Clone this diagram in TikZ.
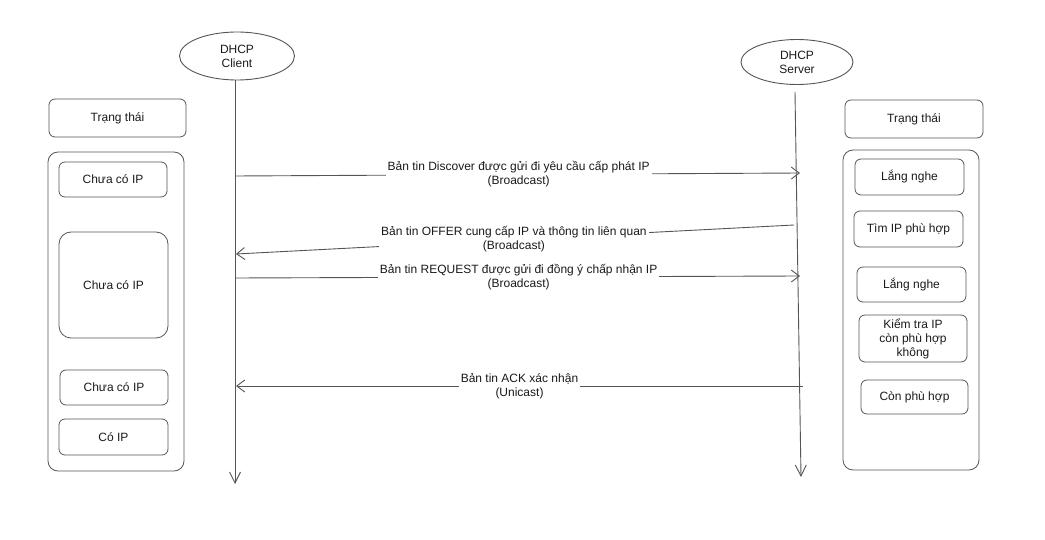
\documentclass[tikz,border=0pt]{standalone}
\usepackage{fontspec}
\setmainfont{Liberation Sans}
\usetikzlibrary{arrows.meta,shapes.geometric}
\definecolor{ln}{HTML}{555555}
\definecolor{tx}{HTML}{1A1A1A}
\begin{document}
\begin{tikzpicture}[x=1pt,y=-1pt,
  font=\fontsize{12}{14}\selectfont, text=tx,
  actor/.style={draw=ln, line width=0.9pt, ellipse, align=center, inner sep=0pt},
  stbox/.style={draw=ln, line width=0.8pt, rounded corners=6pt, align=center, inner sep=0pt},
  life/.style={draw=ln, line width=0.9pt, -{Straight Barb[length=11pt,width=11pt]}},
  msg/.style={draw=ln, line width=0.9pt, -{Straight Barb[length=8pt,width=12pt]}},
  lbl/.style={fill=white, align=center, inner sep=2pt, font=\fontsize{12}{14}\selectfont}]
\useasboundingbox (0,0) rectangle (1045,540);
% actors
\node[actor, minimum width=115pt, minimum height=48pt] (client) at (237,56) {DHCP\\Client};
\node[actor, minimum width=112pt, minimum height=45pt] (server) at (797,62) {DHCP\\Server};
\coordinate (cend) at (235,484);
\coordinate (stop) at (795,92);
\coordinate (send) at (801,477);
\draw[life] (client.south -| cend) -- (cend);
\draw[life] (stop) -- (send);
% left state column
\node[stbox, minimum width=137pt, minimum height=38pt] (lhead) at (117.5,118) {Trạng thái};
\node[stbox, rounded corners=10pt, minimum width=136pt, minimum height=319pt] (lcont) at (116,311.5) {};
\node[stbox, minimum width=108pt, minimum height=35pt] (l1) at (113,179.5) {Chưa có IP};
\node[stbox, rounded corners=12pt, minimum width=109pt, minimum height=106pt] (l2) at (113.5,285) {Chưa có IP};
\node[stbox, minimum width=108pt, minimum height=35pt] (l3) at (114,387.5) {Chưa có IP};
\node[stbox, minimum width=109pt, minimum height=36pt] (l4) at (113.5,437) {Có IP};
% right state column
\node[stbox, minimum width=138pt, minimum height=38pt] (rhead) at (914,119) {Trạng thái};
\node[stbox, rounded corners=10pt, minimum width=136pt, minimum height=320pt] (rcont) at (911,310) {};
\node[stbox, minimum width=109pt, minimum height=36pt] (r1) at (909.5,177) {Lắng nghe};
\node[stbox, minimum width=109pt, minimum height=36pt] (r2) at (908.5,229) {Tìm IP phù hợp};
\node[stbox, minimum width=109pt, minimum height=35pt] (r3) at (911.5,284.5) {Lắng nghe};
\node[stbox, minimum width=108pt, minimum height=47pt] (r4) at (913,338.5) {Kiểm tra IP\\còn phù hợp\\không};
\node[stbox, minimum width=107pt, minimum height=34pt] (r5) at (914.5,397) {Còn phù hợp};
% message endpoints
\coordinate (m1a) at (235,176); \coordinate (m1b) at (800,173);
\coordinate (m2a) at (794,225); \coordinate (m2b) at (236,254);
\coordinate (m3a) at (235,278); \coordinate (m3b) at (800,276);
\coordinate (m4a) at (803,386); \coordinate (m4b) at (236,386);
\draw[msg] (m1a) -- node[lbl, pos=0.502] (t1) {Bản tin Discover được gửi đi yêu cầu cấp phát IP\\(Broadcast)} (m1b);
\draw[msg] (m2a) -- node[lbl, pos=0.502] (t2) {Bản tin OFFER cung cấp IP và thông tin liên quan\\(Broadcast)} (m2b);
\draw[msg] (m3a) -- node[lbl, pos=0.502] (t3) {Bản tin REQUEST được gửi đi đồng ý chấp nhận IP\\(Broadcast)} (m3b);
\draw[msg] (m4a) -- node[lbl, pos=0.50] (t4) {Bản tin ACK xác nhận\\(Unicast)} (m4b);
\end{tikzpicture}
\end{document}
